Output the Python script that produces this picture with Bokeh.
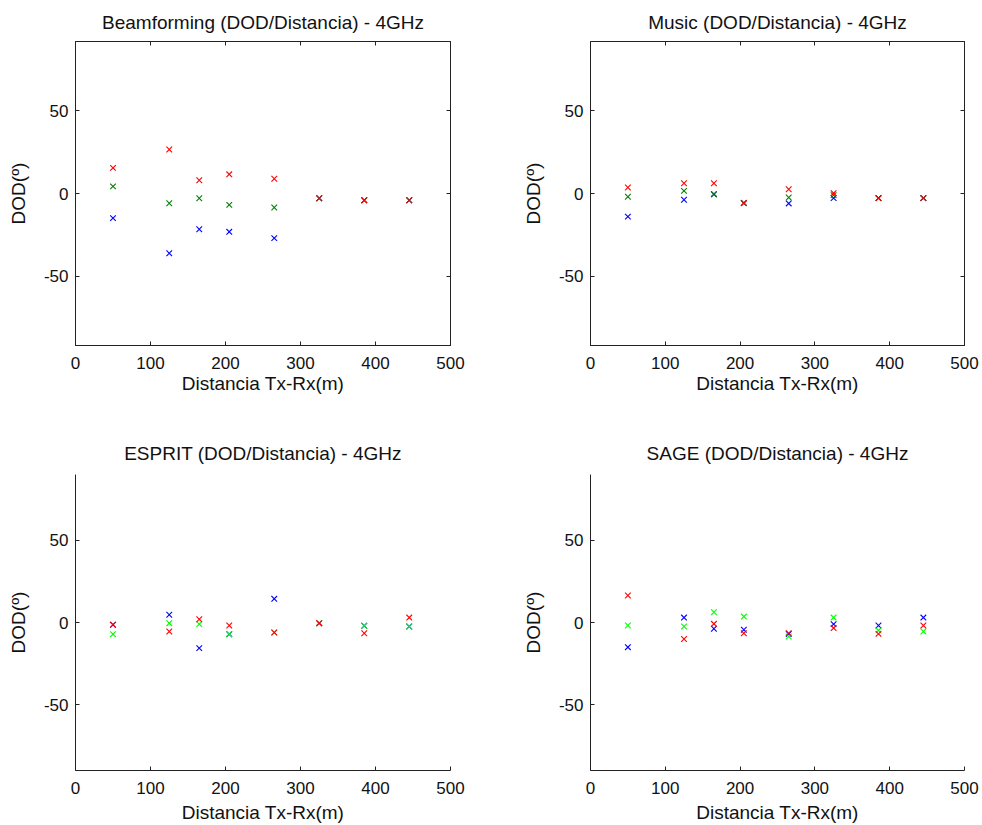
from bokeh.plotting import figure
from bokeh.layouts import column, row
from bokeh.models import LinearAxis, FixedTicker, Range1d
from bokeh.embed import file_html
from bokeh.resources import INLINE

# ---- data ----
distancia = [50, 125, 165, 205, 265, 325, 385, 445]

bf_red = [15.5, 26.6, 8.0, 11.6, 8.9, -2.9, -4.1, -4.1]
bf_green = [4.3, -5.9, -2.9, -6.9, -8.5, -2.9, -4.1, -4.1]
bf_blue = [-14.9, -36.2, -21.6, -23.2, -27.0, -2.9, -4.1, -4.1]

music_red = [3.6, 6.2, 6.2, -5.8, 2.6, 0.2, -2.8, -2.8]
music_green = [-2.0, 1.6, -0.4, -5.8, -2.4, -1.0, -2.8, -2.8]
music_blue = [-14.0, -3.8, -0.4, -5.8, -6.0, -2.8, -2.8, -2.8]

esprit_red = [-1.4, -5.5, 2.0, -1.8, -6.1, -0.4, -6.5, 3.0]
esprit_green = [-7.1, -0.4, -1.0, -7.1, -6.1, -0.4, -2.0, -2.4]
esprit_blue = [-1.4, 4.7, -15.6, -7.1, 14.4, -0.4, -2.0, -2.4]

sage_red = [16.4, -10.0, -0.8, -6.5, -6.5, -3.4, -6.9, -1.8]
sage_green = [-1.8, -2.4, 6.2, 3.6, -8.5, 3.0, -4.8, -5.5]
sage_blue = [-15.0, 3.0, -3.8, -4.4, -7.0, -1.0, -1.8, 3.0]

x_ticks = [0, 100, 200, 300, 400, 500]
y_ticks = [-50, 0, 50]
y_tick_labels = ["-50", "0", "50"]

titles = ["Beamforming (DOD/Distancia) - 4GHz", "Music (DOD/Distancia) - 4GHz",
          "ESPRIT (DOD/Distancia) - 4GHz", "SAGE (DOD/Distancia) - 4GHz"]
x_label = "Distancia Tx-Rx(m)"
y_label = "DOD(º)"

FONT = "Liberation Sans"
TOP_COLORS = ["#0000ff", "#008000", "#ff0000"]
BOT_COLORS = ["#0000ff", "#00ff00", "#ff0000"]


def panel(title, blue, green, red, colors, boxed, ylim, fw, fh, bl, br, bt, bb,
          title_standoff, xlab_standoff):
    p = figure(frame_width=fw, frame_height=fh, output_backend="svg", toolbar_location=None,
               x_range=Range1d(0, 500), y_range=Range1d(-ylim, ylim),
               min_border_left=bl, min_border_right=br, min_border_top=bt, min_border_bottom=bb,
               title=title)
    p.title.text_font = FONT
    p.title.text_font_size = "19px"
    p.title.text_font_style = "normal"
    p.title.align = "center"
    p.title.text_color = "#111111"
    p.title.standoff = title_standoff
    p.outline_line_color = "#222222" if boxed else None
    p.xgrid.visible = False
    p.ygrid.visible = False
    p.background_fill_color = "white"
    p.border_fill_color = "white"

    for ax, ticks in ((p.xaxis[0], x_ticks), (p.yaxis[0], y_ticks)):
        ax.ticker = FixedTicker(ticks=ticks)
        ax.minor_tick_line_color = None
        ax.major_tick_in = 4
        ax.major_tick_out = 0
        ax.axis_line_color = "#222222"
        ax.major_tick_line_color = "#222222"
        ax.major_label_text_font = FONT
        ax.major_label_text_font_size = "17px"
        ax.major_label_text_color = "#111111"
        ax.axis_label_text_font = FONT
        ax.axis_label_text_font_size = "19px"
        ax.axis_label_text_font_style = "normal"
        ax.axis_label_text_color = "#111111"
    p.yaxis[0].major_label_overrides = dict(zip(y_ticks, y_tick_labels))
    p.xaxis[0].axis_label = x_label
    p.yaxis[0].axis_label = y_label
    p.xaxis[0].major_label_standoff = 11
    p.xaxis[0].axis_label_standoff = xlab_standoff
    p.yaxis[0].major_label_standoff = 7
    p.yaxis[0].axis_label_standoff = 12

    if boxed:
        top = LinearAxis(ticker=FixedTicker(ticks=x_ticks[1:-1]))
        right = LinearAxis(ticker=FixedTicker(ticks=y_ticks))
        top.major_label_overrides = {t: "" for t in x_ticks[1:-1]}
        right.major_label_overrides = {t: "" for t in y_ticks}
        for ax in (top, right):
            ax.minor_tick_line_color = None
            ax.major_tick_in = 4
            ax.major_tick_out = 0
            ax.major_label_standoff = 0
            ax.axis_line_color = "#222222"
            ax.major_tick_line_color = "#222222"
        p.add_layout(top, "above")
        p.add_layout(right, "right")

    for ys, c in zip((blue, green, red), colors):
        p.scatter(distancia, ys, marker="x", size=8, line_color=c, line_width=1.1)
    return p


p1 = panel(titles[0], bf_blue, bf_green, bf_red, TOP_COLORS, True, 92, 375, 304, 75, 50, 40, 76, 18, 1)
p2 = panel(titles[1], music_blue, music_green, music_red, TOP_COLORS, True, 92, 374, 304, 90, 16, 40, 76, 18, 1)
p3 = panel(titles[2], esprit_blue, esprit_green, esprit_red, BOT_COLORS, False, 90, 375, 296, 75, 50, 53, 54, 22, 5)
p4 = panel(titles[3], sage_blue, sage_green, sage_red, BOT_COLORS, False, 90, 374, 296, 90, 16, 53, 54, 22, 5)

layout = column(row(p1, p2, spacing=0), row(p3, p4, spacing=0), spacing=0)

open("out.html", "w").write(file_html(layout, INLINE))
